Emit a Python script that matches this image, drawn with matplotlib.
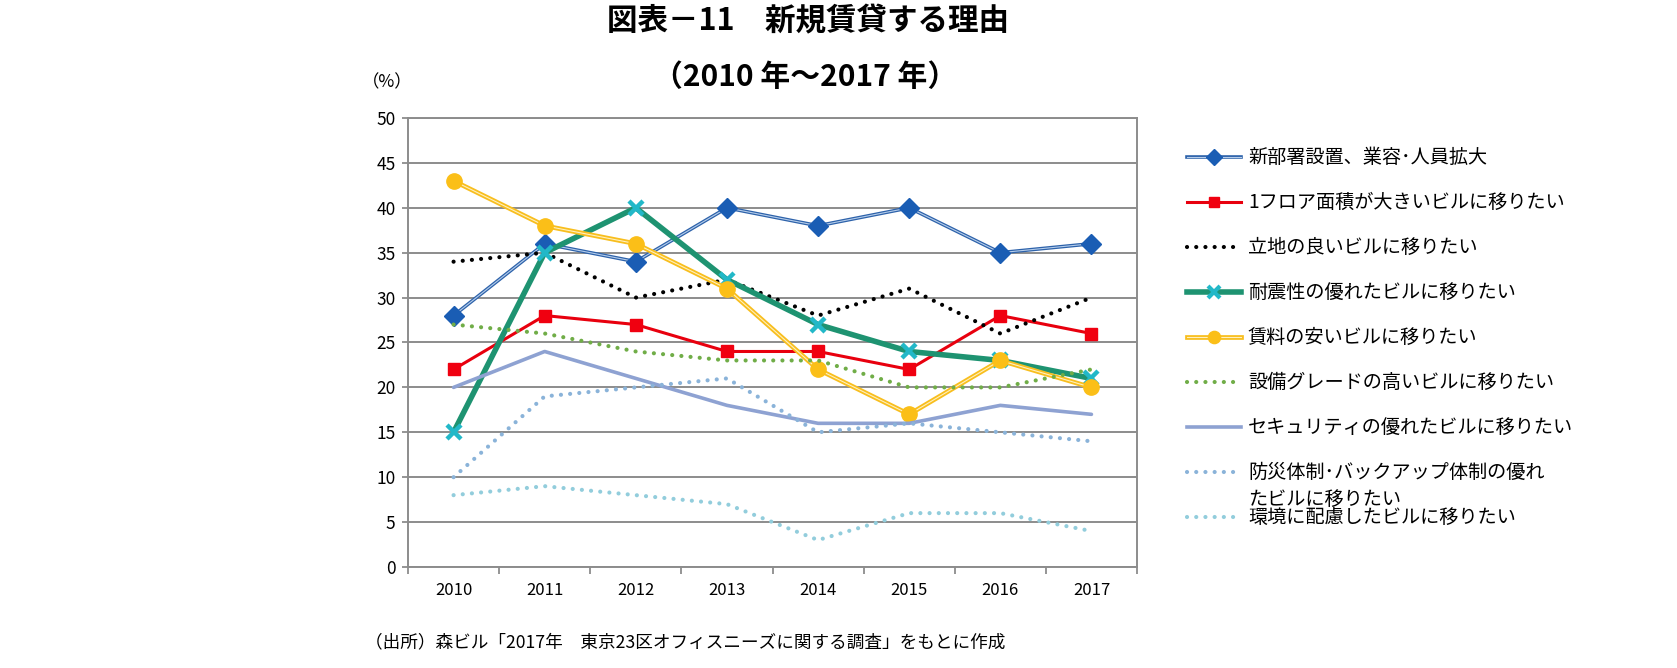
import matplotlib
matplotlib.use('Agg')
import matplotlib.pyplot as plt
from matplotlib.lines import Line2D

plt.rcParams['font.family'] = ['Noto Sans CJK JP', 'DejaVu Sans']

years = ['2010', '2011', '2012', '2013', '2014', '2015', '2016', '2017']

labels = [
    '新部署設置、業容･人員拡大',
    '1フロア面積が大きいビルに移りたい',
    '立地の良いビルに移りたい',
    '耐震性の優れたビルに移りたい',
    '賃料の安いビルに移りたい',
    '設備グレードの高いビルに移りたい',
    'セキュリティの優れたビルに移りたい',
    '防災体制･バックアップ体制の優れ\nたビルに移りたい',
    '環境に配慮したビルに移りたい',
]

expand = [28, 36, 34, 40, 38, 40, 35, 36]
floor_area = [22, 28, 27, 24, 24, 22, 28, 26]
location = [34, 35, 30, 32, 28, 31, 26, 30]
quake = [15, 35, 40, 32, 27, 24, 23, 21]
rent = [43, 38, 36, 31, 22, 17, 23, 20]
equipment = [27, 26, 24, 23, 23, 20, 20, 22]
security = [20, 24, 21, 18, 16, 16, 18, 17]
disaster = [10, 19, 20, 21, 15, 16, 15, 14]
environment = [8, 9, 8, 7, 3, 6, 6, 4]

W, H = 1677, 668
dot = (0, (0.01, 2.2))

# styles: (color, lw, linestyle, marker, marker face, marker size, inner color)
styles = [
    dict(color='#2D62AA', lw=2.6, ls='-', marker='D', mfc='#1A5DB4', ms=10, inner='#B5CDEB'),
    dict(color='#E8000E', lw=2.2, ls='-', marker='s', mfc='#F00010', ms=9, inner=None),
    dict(color='#000000', lw=3.0, ls=dot, marker=None, mfc=None, ms=0, inner=None),
    dict(color='#1E9371', lw=4.0, ls='-', marker='x', mfc='#22B8C8', ms=10, inner=None),
    dict(color='#F8BE1E', lw=3.4, ls='-', marker='o', mfc='#FBBF18', ms=11, inner='#FFF0BE'),
    dict(color='#70AD47', lw=3.0, ls=dot, marker=None, mfc=None, ms=0, inner=None),
    dict(color='#8EA2D2', lw=2.6, ls='-', marker=None, mfc=None, ms=0, inner=None),
    dict(color='#8AB3D9', lw=3.0, ls=dot, marker=None, mfc=None, ms=0, inner=None),
    dict(color='#92CDDC', lw=3.0, ls=dot, marker=None, mfc=None, ms=0, inner=None),
]
series = [expand, floor_area, location, quake, rent, equipment, security, disaster, environment]

fig = plt.figure(figsize=(W / 100, H / 100), dpi=100)
ax = fig.add_axes([408 / W, 1 - 567 / H, (1137 - 408) / W, (567 - 118) / H])

x = list(range(len(years)))
for vals, st in zip(series, styles):
    ax.plot(x, vals, color=st['color'], lw=st['lw'], linestyle=st['ls'],
            dash_capstyle='round', solid_capstyle='round', solid_joinstyle='round')
    if st['inner']:
        ax.plot(x, vals, color=st['inner'], lw=0.8, solid_joinstyle='round')
    if st['marker'] == 'x':
        ax.plot(x, vals, linestyle='none', marker='x', ms=st['ms'], mec=st['mfc'], mew=3.2)
    elif st['marker']:
        ax.plot(x, vals, linestyle='none', marker=st['marker'], ms=st['ms'],
                mfc=st['mfc'], mec=st['mfc'])

ax.set_xlim(-0.5, len(years) - 0.5)
ax.set_ylim(0, 50)
ax.set_yticks(range(0, 51, 5))
ax.set_xticks(x)
ax.set_xticklabels(years, fontsize=12)
ax.set_xticks([i - 0.5 for i in range(len(years) + 1)], minor=True)
ax.tick_params(axis='x', which='major', length=0, pad=11)
ax.tick_params(axis='x', which='minor', length=5, width=1.3, color='#8C8C8C')
ax.tick_params(axis='y', length=4, width=1.3, color='#8C8C8C', labelsize=12.5, pad=5)
ax.yaxis.grid(True, color='#8C8C8C', lw=1.4)
ax.set_axisbelow(True)
for s in ax.spines.values():
    s.set_color('#8C8C8C')
    s.set_linewidth(1.4)

fig.text(808 / W, 1 - 21 / H, '図表－11　新規賃貸する理由', ha='center', va='center',
         fontsize=22, fontweight='bold')
fig.text(805 / W, 1 - 77 / H, '（2010 年～2017 年）', ha='center', va='center',
         fontsize=21.5, fontweight='bold')
fig.text(362 / W, 1 - 82 / H, '（%）', ha='left', va='center', fontsize=12.5)
fig.text(365 / W, 1 - 642 / H, '（出所）森ビル「2017年　東京23区オフィスニーズに関する調査」をもとに作成',
         ha='left', va='center', fontsize=12.7)

# legend drawn by hand to keep the Excel spacing
for i, (lab, st) in enumerate(zip(labels, styles)):
    yy = 1 - (157 + 45 * i) / H
    x0, x1 = 1187 / W, 1241 / W
    fig.add_artist(Line2D([x0, x1], [yy, yy], transform=fig.transFigure, color=st['color'],
                          lw=st['lw'], linestyle=st['ls'], dash_capstyle='round'))
    if st['inner']:
        fig.add_artist(Line2D([x0, x1], [yy, yy], transform=fig.transFigure,
                              color=st['inner'], lw=0.8))
    if st['marker'] == 'x':
        fig.add_artist(Line2D([(x0 + x1) / 2], [yy], transform=fig.transFigure, linestyle='none',
                              marker='x', ms=st['ms'] * 0.8, mec=st['mfc'], mew=3))
    elif st['marker']:
        fig.add_artist(Line2D([(x0 + x1) / 2], [yy], transform=fig.transFigure, linestyle='none',
                              marker=st['marker'], ms=st['ms'] * 0.8, mfc=st['mfc'], mec=st['mfc']))
    if '\n' in lab:
        fig.text(1248 / W, yy + 10 / H, lab, ha='left', va='top', fontsize=13.8, linespacing=1.35)
    else:
        fig.text(1248 / W, yy, lab, ha='left', va='center', fontsize=13.8)

fig.savefig('out.png', dpi=100)
